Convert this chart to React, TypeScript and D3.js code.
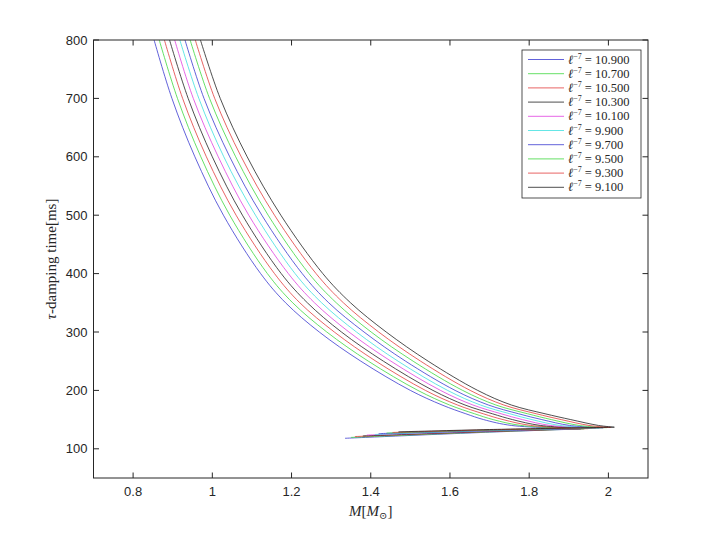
import { useEffect, useRef } from 'react'
import { select, scaleLinear, line, curveCatmullRom } from 'd3'

// legend values and colours, top to bottom
const ellValues = [10.9, 10.7, 10.5, 10.3, 10.1, 9.9, 9.7, 9.5, 9.3, 9.1]
const colors = ['#3a3ad0', '#3fd83f', '#e23c3c', '#222222', '#e040e0', '#3ee0e0', '#3a3ad0', '#3fd83f', '#e23c3c', '#222222']

const tauLevels = [800, 700, 600, 500, 400, 350, 300, 250, 200, 175, 160, 150, 140]
const upperM = [
  [0.853, 0.898, 0.956, 1.028, 1.122, 1.185, 1.270, 1.375, 1.500, 1.580, 1.640, 1.685, 1.755],
  [0.866, 0.912, 0.971, 1.044, 1.139, 1.203, 1.289, 1.394, 1.519, 1.599, 1.662, 1.709, 1.779],
  [0.879, 0.925, 0.985, 1.060, 1.157, 1.221, 1.308, 1.413, 1.538, 1.619, 1.684, 1.734, 1.804],
  [0.892, 0.939, 1.000, 1.076, 1.174, 1.240, 1.326, 1.432, 1.557, 1.638, 1.707, 1.758, 1.828],
  [0.905, 0.952, 1.015, 1.092, 1.192, 1.258, 1.345, 1.451, 1.576, 1.658, 1.729, 1.783, 1.853],
  [0.918, 0.966, 1.029, 1.109, 1.209, 1.276, 1.364, 1.469, 1.594, 1.677, 1.751, 1.807, 1.877],
  [0.931, 0.979, 1.044, 1.125, 1.227, 1.294, 1.383, 1.488, 1.613, 1.697, 1.773, 1.832, 1.902],
  [0.944, 0.993, 1.059, 1.141, 1.244, 1.313, 1.401, 1.507, 1.632, 1.716, 1.796, 1.856, 1.926],
  [0.957, 1.006, 1.073, 1.157, 1.262, 1.331, 1.420, 1.526, 1.651, 1.736, 1.818, 1.881, 1.951],
  [0.970, 1.020, 1.088, 1.173, 1.279, 1.349, 1.439, 1.545, 1.670, 1.755, 1.840, 1.905, 1.975],
]

// turning point (max mass)
const tipM = [1.930, 1.939, 1.949, 1.958, 1.968, 1.977, 1.987, 1.996, 2.006, 2.015]
const tipTau = [134, 134.3, 134.6, 135, 135.3, 135.6, 136, 136.3, 136.6, 137]

// lower branch: a middle point and the end point
const midM = [1.70, 1.70, 1.70, 1.70, 1.70, 1.70, 1.70, 1.70, 1.70, 1.70]
const midTau = [128.5, 129, 129.5, 130, 130.5, 131, 131.5, 132, 132.5, 133]
const endM = [1.335, 1.35, 1.36, 1.38, 1.39, 1.41, 1.42, 1.44, 1.455, 1.47]
const endTau = [118, 119.5, 121, 122, 123.5, 124.5, 126, 127, 128, 129]

const xTicks = [0.8, 1, 1.2, 1.4, 1.6, 1.8, 2]
const yTicks = [100, 200, 300, 400, 500, 600, 700, 800]

const axisColor = '#262626'
const sans = '"Liberation Sans", Arial, sans-serif'
const serif = '"Liberation Serif", "DejaVu Serif", serif'

function App() {
  const svg_ref = useRef<SVGSVGElement>(null)
  const width = 716,
        height = 537
  const box = { left: 93.5, right: 648, top: 40, bottom: 478 }

  useEffect(() => {
    const svg = select(svg_ref.current)
    svg.selectAll('*').remove()

    const x = scaleLinear([0.7, 2.1], [box.left, box.right]),
          y = scaleLinear([50, 800], [box.bottom, box.top])

    svg.append('rect')
      .attr('width', width).attr('height', height).attr('fill', 'white')

    svg.append('clipPath').attr('id', 'plot-clip')
      .append('rect')
      .attr('x', box.left).attr('y', box.top)
      .attr('width', box.right - box.left).attr('height', box.bottom - box.top)

    const curves = svg.append('g').attr('clip-path', 'url(#plot-clip)')
    const smooth = line<[number, number]>()
      .x(d => x(d[0]))
      .y(d => y(d[1]))
      .curve(curveCatmullRom.alpha(0.5))

    ellValues.forEach((_, i) => {
      const upper: [number, number][] = tauLevels.map((t, j) => [upperM[i][j], t])
      upper.push([tipM[i], tipTau[i]])
      const lower: [number, number][] = [
        [tipM[i], tipTau[i]],
        [midM[i], midTau[i]],
        [endM[i], endTau[i]],
      ]
      curves.append('path')
        .attr('d', smooth(upper))
        .attr('fill', 'none')
        .attr('stroke', colors[i])
        .attr('stroke-width', 0.8)
      curves.append('path')
        .attr('d', smooth(lower))
        .attr('fill', 'none')
        .attr('stroke', colors[i])
        .attr('stroke-width', 0.8)
    })

    // box with inward ticks on all four sides
    const axes = svg.append('g').attr('stroke', axisColor).attr('stroke-width', 1)
    axes.append('rect')
      .attr('x', box.left).attr('y', box.top)
      .attr('width', box.right - box.left).attr('height', box.bottom - box.top)
      .attr('fill', 'none')
    const tl = 5.5
    xTicks.forEach(v => {
      axes.append('line').attr('x1', x(v)).attr('x2', x(v)).attr('y1', box.bottom).attr('y2', box.bottom - tl)
      axes.append('line').attr('x1', x(v)).attr('x2', x(v)).attr('y1', box.top).attr('y2', box.top + tl)
    })
    yTicks.forEach(v => {
      axes.append('line').attr('x1', box.left).attr('x2', box.left + tl).attr('y1', y(v)).attr('y2', y(v))
      axes.append('line').attr('x1', box.right).attr('x2', box.right - tl).attr('y1', y(v)).attr('y2', y(v))
    })

    svg.append('g').selectAll('text').data(xTicks).join('text')
      .attr('x', d => x(d)).attr('y', box.bottom + 18)
      .attr('text-anchor', 'middle')
      .attr('font-family', sans).attr('font-size', 13).attr('fill', axisColor)
      .text(d => String(d))

    svg.append('g').selectAll('text').data(yTicks).join('text')
      .attr('x', box.left - 6).attr('y', d => y(d) + 4.5)
      .attr('text-anchor', 'end')
      .attr('font-family', sans).attr('font-size', 13).attr('fill', axisColor)
      .text(d => String(d))

    // x label  M[M_sun]
    const xl = svg.append('text')
      .attr('x', (box.left + box.right) / 2).attr('y', box.bottom + 38)
      .attr('text-anchor', 'middle')
      .attr('font-family', serif).attr('font-size', 15).attr('fill', axisColor)
    xl.append('tspan').attr('font-style', 'italic').text('M')
    xl.append('tspan').text('[')
    xl.append('tspan').attr('font-style', 'italic').text('M')
    xl.append('tspan').attr('font-size', 10).attr('dy', 3).text('⊙')
    xl.append('tspan').attr('dy', -3).text(']')

    // y label
    const yl = svg.append('text')
      .attr('transform', `translate(${box.left - 38}, ${(box.top + box.bottom) / 2}) rotate(-90)`)
      .attr('text-anchor', 'middle')
      .attr('font-family', serif).attr('font-size', 15).attr('fill', axisColor)
    yl.append('tspan').attr('font-style', 'italic').text('τ')
    yl.append('tspan').text('-damping time[ms]')

    // legend
    const lg = svg.append('g')
    const lx = 522, ly = 50, lw = 119, lh = 148
    lg.append('rect')
      .attr('x', lx).attr('y', ly).attr('width', lw).attr('height', lh)
      .attr('fill', 'white').attr('stroke', axisColor).attr('stroke-width', 0.8)
    ellValues.forEach((v, i) => {
      const yy = ly + 9.5 + i * 14.2
      lg.append('line')
        .attr('x1', lx + 6).attr('x2', lx + 42).attr('y1', yy).attr('y2', yy)
        .attr('stroke', colors[i]).attr('stroke-width', 0.8)
      const t = lg.append('text')
        .attr('x', lx + 46).attr('y', yy + 4)
        .attr('font-family', serif).attr('font-size', 12.5).attr('fill', axisColor)
      t.append('tspan').attr('font-style', 'italic').text('ℓ')
      t.append('tspan').attr('font-size', 8).attr('dy', -5).text('−7')
      t.append('tspan').attr('dy', 5).text(` = ${v.toFixed(3)}`)
    })
  }, [])

  return (
    <svg ref={svg_ref} width={width} height={height}
      style={{ position: 'absolute', left: 0, top: 0, display: 'block' }} />
  )
}

export default App
